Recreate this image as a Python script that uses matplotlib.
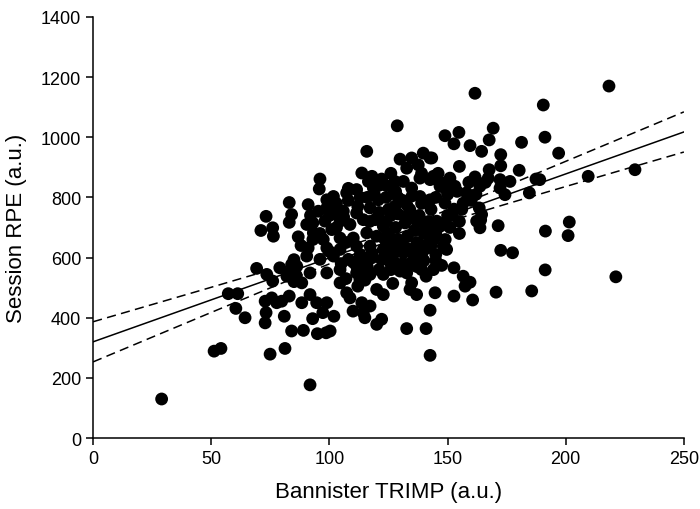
import numpy as np
import matplotlib
matplotlib.use("Agg")
import matplotlib.pyplot as plt

plt.rcParams['font.family'] = ['Liberation Sans', 'DejaVu Sans']

# Data (Bannister TRIMP vs session RPE)
trimp = [
    29, 51.2, 54.1, 57.2, 61.2, 60.4, 64.3, 69.2, 73.5, 72.8, 73.2, 72.8, 74.9,
    96, 95.7, 83, 91, 73.2, 84, 83, 76, 71, 76.3, 86.8, 91, 79, 84, 85, 82,
    76, 83, 88.3, 75.6, 77.7, 79.8, 83, 88.3, 91.8, 94.6, 98.9, 80.9, 92.9,
    97.2, 101.9, 84, 89, 94.9, 98.6, 100.3, 81.2, 91.8, 104.5, 107.3, 108.7,
    110, 114.3, 113.7, 148.2, 149.6, 147.5, 152.7, 156.6, 157.4, 159.5, 140.9,
    144.7, 152.7, 160.6, 142.6, 132.7, 140.9, 142.6, 126.8, 134.8, 134.1, 136.9,
    120, 122.8, 117.2, 115, 120, 122.1, 129.9, 132.7, 135.5, 138.3, 131.3,
    117.9, 122.1, 126.4, 111.5, 114.3, 112.9, 142.6, 161.6, 190.5, 169.3, 154.8,
    148.9, 167.6, 191.2, 152.7, 159.5, 181.3, 164.4, 197, 143.3, 172.5, 172.5,
    155, 167.6, 180.3, 161.6, 167.2, 172.2, 176.4, 187.4, 163.7, 172.2, 174.3,
    184.6, 145.4, 151, 153.1, 148.9, 156.6, 152.7, 163.4, 164.4, 145.4, 171.4,
    191.4, 162.3, 163.7, 201, 201.5, 172.5, 177.5, 191.3, 170.5, 185.6, 218.3,
    209.5, 229.3, 189, 221.2, 128.7, 115.8, 129.9, 134.8, 139.7, 142.6, 132.7,
    137.6, 113.7, 116.5, 122.1, 118.6, 127.7, 131.3, 134.8, 138.3, 142.6, 146.8,
    111.5, 107.3, 101.7, 98.9, 120.7, 117.2, 111.5, 105.9, 127.7, 132.7, 138.3,
    142.6, 95.3, 98.9, 103, 98.1, 101, 104.5, 108.7, 114.3, 119.3, 122.8, 90.4,
    93.2, 97.4, 104.5, 110.1, 115.8, 120, 98.9, 104.5, 111.5, 117.2, 122.8,
    90.4, 96, 101.7, 108, 114.3, 86.2, 91.8, 98.9, 104.5, 111.5, 117.2, 122.8,
    124, 128, 131, 135, 139, 143, 125, 129, 134, 138, 142, 146, 124, 128, 132,
    136, 140, 144, 125, 129, 133, 137, 141, 145, 124, 128, 133, 127, 131, 136,
    140, 145, 126, 137, 150, 155, 164, 147, 149, 107, 112, 115, 85, 86, 92, 93,
    159, 166, 147, 150, 158, 145, 146,
    103, 108, 113, 106, 112, 117, 121, 126, 119, 124, 129, 133, 137, 141, 145,
    149, 103, 107, 113, 118, 123, 127, 131, 135, 139, 143, 96, 100, 105, 110,
    116, 121, 126, 134, 139, 144, 100, 93, 88, 151, 155, 152, 156, 160, 154,
    162, 149, 144, 139, 126, 121, 118, 127, 116, 108,
]
rpe = [
    130, 289, 298, 480, 480, 431, 400, 564, 544, 455, 417, 383, 279,
    861, 828, 783, 776, 737, 743, 717, 699, 690, 671, 669, 632, 566, 577, 593, 538,
    522, 549, 516, 466, 450, 455, 472, 450, 477, 450, 450, 405, 397,
    417, 405, 356, 358, 347, 350, 356, 298, 177, 516, 483, 466,
    422, 417, 450, 638, 627, 574, 566, 538, 505, 518, 538,
    483, 472, 459, 425, 364, 364, 275, 514, 516, 494, 477,
    494, 477, 439, 400, 378, 395, 555, 549, 610, 643, 616,
    599, 593, 604, 571, 555, 527, 654, 1146, 1107, 1030, 1016,
    1005, 991, 1000, 978, 972, 983, 953, 947, 931, 942, 905,
    903, 892, 890, 868, 864, 859, 853, 861, 837, 831, 809,
    815, 859, 864, 837, 781, 781, 761, 765, 743, 721, 706,
    688, 721, 699, 673, 718, 624, 616, 559, 485, 489, 1170,
    870, 892, 859, 536, 1038, 953, 927, 931, 947, 931, 897,
    908, 881, 853, 861, 831, 853, 853, 831, 864, 859, 837,
    826, 815, 803, 792, 792, 765, 748, 754, 770, 776, 803,
    792, 754, 765, 748, 721, 693, 721, 710, 726, 726, 704, 710,
    682, 660, 665, 665, 682, 671, 632, 627, 638, 638, 627,
    605, 594, 605, 594, 594, 571, 549, 549, 560, 549, 544, 544,
    800, 820, 790, 805, 780, 760, 760, 745, 760, 740, 720, 700, 720, 700, 715,
    690, 680, 660, 680, 660, 670, 650, 630, 610, 640, 620, 630, 590, 580, 600,
    590, 590, 560, 570, 740, 720, 725, 705, 712, 530, 505, 525, 520, 540, 740, 715,
    850, 850, 850, 810, 815, 800, 880,
    780, 790, 800, 735, 770, 720, 750, 740, 810, 840, 800, 740, 720, 700, 680,
    660, 700, 650, 610, 615, 665, 650, 640, 620, 610, 640, 680, 620, 580, 585,
    570, 560, 580, 580, 560, 560, 740, 660, 640, 700, 680, 740, 760, 790, 820,
    810, 830, 870, 880, 880, 840, 870, 830, 800, 830,
]

# Fitted regression line and 95% band
intercept = 320
slope = 2.79
x_centre = 125
band_min = 15
band_slope = 0.52

fig = plt.figure(figsize=(7, 5.1), dpi=100)
ax = fig.add_axes([0.133, 0.139, 0.844, 0.826])

ax.scatter(trimp, rpe, s=85, color="black", edgecolors="none", zorder=3)

xl = np.linspace(0, 250, 300)
yl = intercept + slope * xl
half = np.sqrt(band_min ** 2 + (band_slope * (xl - x_centre)) ** 2)
ax.plot(xl, yl, color="black", lw=1.1, zorder=2)
ax.plot(xl, yl + half, color="black", lw=1.1, ls=(0, (6, 3.5)), zorder=2)
ax.plot(xl, yl - half, color="black", lw=1.1, ls=(0, (6, 3.5)), zorder=2)

ax.set_xlim(0, 250)
ax.set_ylim(0, 1400)
ax.set_xticks(range(0, 251, 50))
ax.set_yticks(range(0, 1401, 200))
ax.spines["top"].set_visible(False)
ax.spines["right"].set_visible(False)
for s in ["left", "bottom"]:
    ax.spines[s].set_linewidth(1.1)
ax.tick_params(direction="out", length=5, width=1.1, labelsize=13)
ax.set_xlabel("Bannister TRIMP (a.u.)", fontsize=16, labelpad=10)
ax.set_ylabel("Session RPE (a.u.)", fontsize=16, labelpad=10)

fig.savefig("out.png", dpi=100)
